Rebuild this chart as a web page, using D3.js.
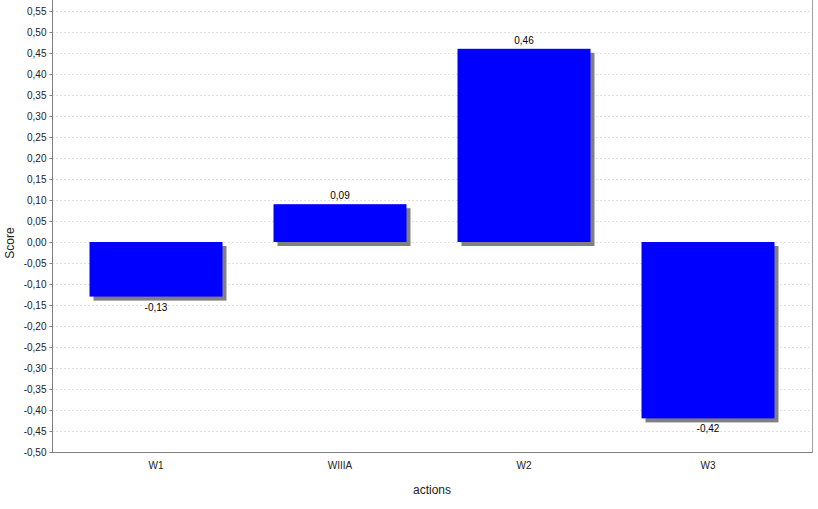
<!DOCTYPE html>
<html>
<head>
<meta charset="utf-8">
<script src="https://cdn.jsdelivr.net/npm/d3@7"></script>
<style>
html,body{margin:0;padding:0;background:#fff;}
text{font-family:"Liberation Sans",Arial,sans-serif;}
</style>
</head>
<body>
<svg id="chart" width="818" height="509"></svg>
<script>
const categories = ["W1", "WIIIA", "W2", "W3"];
const scores = [-0.13, 0.09, 0.46, -0.42];
const yTicks = d3.range(-10, 12).map(i => i * 0.05);
const xAxisLabel = "actions";
const yAxisLabel = "Score";

(function () {
const svg = d3.select("#chart");
const pLeft = 52, pRight = 812, pTop = 0, pBottom = 452;

const y = d3.scaleLinear().domain([-0.5, 0.5]).range([pBottom, 32]);
const stepPx = 184, gapPx = 51;
const pi = gapPx / stepPx;
const po = ((pRight - pLeft) / stepPx - categories.length + pi) / 2;
const x = d3.scaleBand().domain(categories).range([pLeft, pRight])
  .paddingInner(pi).paddingOuter(po);
const fmt = v => d3.format(".2f")(v).replace(".", ",").replace("\u2212", "-");

// gridlines
svg.append("g").selectAll("line").data(yTicks).join("line")
  .attr("x1", pLeft).attr("x2", pRight)
  .attr("y1", d => Math.round(y(d)) + 0.5).attr("y2", d => Math.round(y(d)) + 0.5)
  .attr("stroke", "#e2e2e2").attr("stroke-width", 1).attr("stroke-dasharray", "2,2");

// shadows
svg.append("g").selectAll("rect").data(scores).join("rect")
  .attr("x", (d, i) => x(categories[i]) + 4)
  .attr("y", d => Math.min(y(d), y(0)) + 4)
  .attr("width", x.bandwidth())
  .attr("height", d => Math.abs(y(d) - y(0)))
  .attr("fill", "#808080");

// bars
svg.append("g").selectAll("rect").data(scores).join("rect")
  .attr("x", (d, i) => x(categories[i]))
  .attr("y", d => Math.min(y(d), y(0)))
  .attr("width", x.bandwidth())
  .attr("height", d => Math.abs(y(d) - y(0)))
  .attr("fill", "#0000ff");

// value labels
svg.append("g").selectAll("text").data(scores).join("text")
  .attr("x", (d, i) => x(categories[i]) + x.bandwidth() / 2)
  .attr("y", d => d >= 0 ? y(d) - 5 : y(d) + 14)
  .attr("text-anchor", "middle").attr("font-size", 10).attr("fill", "#000")
  .text(d => fmt(d));

// axes
const yAxis = d3.axisLeft(y).tickValues(yTicks).tickFormat(fmt).tickSize(3).tickPadding(3);
const gy = svg.append("g").attr("transform", `translate(${pLeft + 0.5},0)`).call(yAxis);
gy.select(".domain").remove();
gy.selectAll(".tick line").attr("stroke", "#808080");
gy.selectAll(".tick text").attr("font-size", 10).attr("fill", "#222").attr("font-family", "Liberation Sans, Arial, sans-serif");
svg.append("line").attr("x1", pLeft + 0.5).attr("x2", pLeft + 0.5).attr("y1", pTop).attr("y2", pBottom + 0.5)
  .attr("stroke", "#808080");

const xAxis = d3.axisBottom(x).tickSize(0).tickPadding(9);
const gx = svg.append("g").attr("transform", `translate(0,${pBottom + 0.5})`).call(xAxis);
gx.select(".domain").remove();
gx.selectAll(".tick text").attr("font-size", 10).attr("fill", "#222").attr("font-family", "Liberation Sans, Arial, sans-serif");
svg.append("line").attr("x1", pLeft).attr("x2", pRight + 1).attr("y1", pBottom + 0.5).attr("y2", pBottom + 0.5)
  .attr("stroke", "#808080");
// right border
svg.append("line").attr("x1", pRight + 0.5).attr("x2", pRight + 0.5).attr("y1", pTop).attr("y2", pBottom + 0.5)
  .attr("stroke", "#a0a0a0");

// axis titles
svg.append("text").attr("x", (pLeft + pRight) / 2).attr("y", 494)
  .attr("text-anchor", "middle").attr("font-size", 12).attr("fill", "#222").text(xAxisLabel);
svg.append("text").attr("transform", "translate(14,243) rotate(-90)")
  .attr("text-anchor", "middle").attr("font-size", 12).attr("fill", "#222").text(yAxisLabel);
})();
</script>
</body>
</html>
